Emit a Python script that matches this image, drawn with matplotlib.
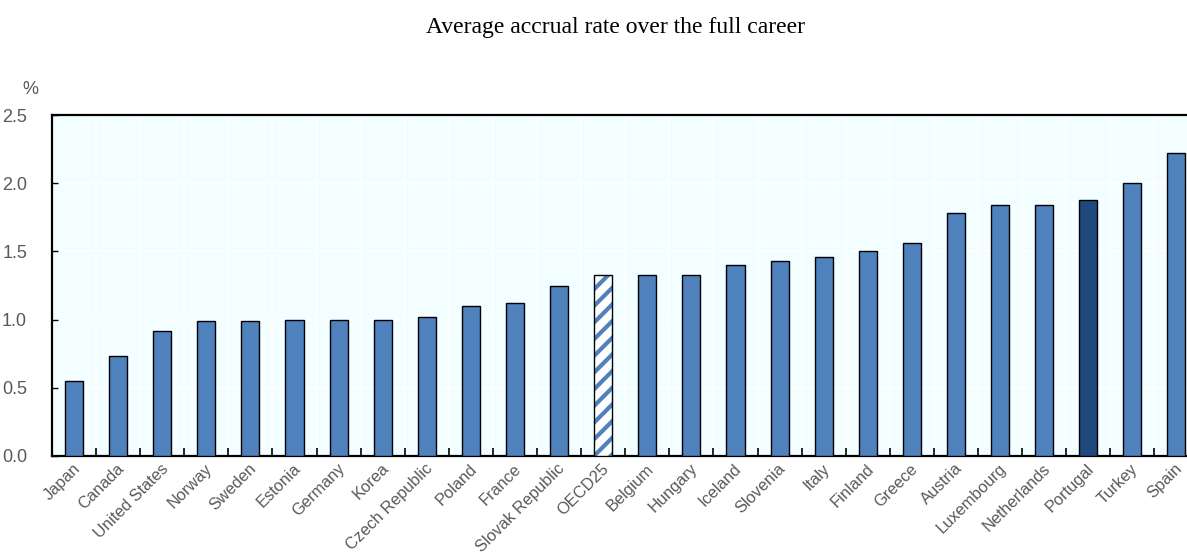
import numpy as np
import matplotlib
matplotlib.use('Agg')
import matplotlib.pyplot as plt

plt.rcParams['font.family'] = ['Liberation Sans', 'DejaVu Sans']
plt.rcParams['hatch.linewidth'] = 3.0

# 数据
countries = ['Japan', 'Canada', 'United States', 'Norway', 'Sweden', 'Estonia', 'Germany',
             'Korea', 'Czech Republic', 'Poland', 'France', 'Slovak Republic', 'OECD25',
             'Belgium', 'Hungary', 'Iceland', 'Slovenia', 'Italy', 'Finland', 'Greece',
             'Austria', 'Luxembourg', 'Netherlands', 'Portugal', 'Turkey', 'Spain']
rates = [0.55, 0.73, 0.92, 0.99, 0.99, 1.00, 1.00, 1.00, 1.02, 1.10, 1.12, 1.25, 1.33,
         1.33, 1.33, 1.40, 1.43, 1.46, 1.50, 1.56, 1.78, 1.84, 1.84, 1.88, 2.00, 2.22]
yticks = [0.0, 0.5, 1.0, 1.5, 2.0, 2.5]

blue = '#4F81BD'
navy = '#1F497D'
grey = '#595959'

fig = plt.figure(figsize=(11.87, 5.54), dpi=100)
ax = fig.add_axes([52 / 1187, 1 - 456 / 554, 1 - 52 / 1187, (456 - 115) / 554])
ax.set_facecolor('#F2FEFF')

n = len(countries)
for i, (c, v) in enumerate(zip(countries, rates)):
    if c == 'OECD25':
        ax.bar(i, v, width=0.41, color='white', edgecolor=blue, hatch='//', linewidth=0, zorder=3)
        ax.bar(i, v, width=0.41, color='none', edgecolor='black', linewidth=1.0, zorder=4)
    else:
        col = navy if c == 'Portugal' else blue
        ax.bar(i, v, width=0.41, color=col, edgecolor='black', linewidth=1.0, zorder=3)

# 右边被截断，和原图一致
ax.set_xlim(-0.5, n - 0.76)
ax.set_ylim(0, 2.5)

# 网格
for b in np.arange(0.5, n - 0.5, 1.0):
    ax.axvline(b, color='white', linewidth=1.2, zorder=1)
for yv in yticks[1:-1]:
    ax.axhline(yv, color='white', linewidth=1.2, zorder=1)

ax.set_xticks(np.arange(0.5, n - 0.5, 1.0))
ax.set_xticklabels([])
ax.tick_params(axis='x', direction='in', length=6, width=1.2, color='black')
for i, c in enumerate(countries):
    ax.text(i + 0.08, -0.075, c, rotation=45, ha='right', va='center', fontsize=11.8,
            color=grey, rotation_mode='anchor')

ax.set_yticks(yticks)
ax.set_yticklabels([f'{v:.1f}' for v in yticks], fontsize=13, color=grey)
ax.tick_params(axis='y', direction='in', length=4, width=1.0, color='black', pad=18)

for s in ['left', 'bottom', 'top']:
    ax.spines[s].set_linewidth(1.6)
    ax.spines[s].set_color('black')
ax.spines['right'].set_visible(False)

fig.text(30 / 1187, 1 - 90 / 554, '%', fontsize=13, color=grey, ha='center', va='center')
fig.text(616 / 1187, 1 - 27 / 554, 'Average accrual rate over the full career',
         fontsize=17, family=['Liberation Serif', 'DejaVu Serif'], ha='center', va='center')

fig.savefig('out.png', dpi=100)
